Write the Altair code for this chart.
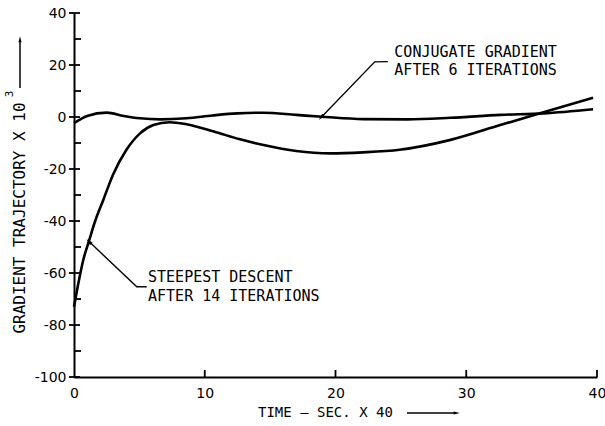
import altair as alt
import pandas as pd

# --- data ---
sd_x = [0, 0.33, 0.71, 1.17, 1.6, 2.24, 3.0, 4.0, 5.05, 6.07, 7.3, 8.6, 10.7, 12.7, 14.5, 17, 19.6, 22.1, 24.9, 28.8, 32.6, 35.9, 39.7]
sd_y = [-73, -64, -55, -47.3, -40.3, -31.9, -22, -12.7, -6.3, -3.1, -2.0, -2.8, -5.6, -8.6, -10.8, -13.1, -14, -13.6, -12.6, -8.8, -3.1, 1.8, 7.4]

cg_x = [0, 1, 2.5, 3.8, 5.05, 6.6, 8.6, 10.6, 12.5, 14.5, 17, 19, 22.1, 25.5, 28.8, 32.6, 35.9, 39.7]
cg_y = [-2.4, 0.4, 1.7, 0.4, -0.5, -0.9, -0.5, 0.6, 1.4, 1.65, 0.8, 0.1, -0.8, -0.9, -0.3, 0.8, 1.4, 3.0]

y_major = [-100, -80, -60, -40, -20, 0, 20, 40]
y_minor = [-90, -70, -50, -30, -10, 10, 30]
x_major = [0, 10, 20, 30, 40]
x_ticks_drawn = [10, 20, 30, 40]

# annotation leader lines (data units)
cg_lead_x = [18.95, 23.0, 24.0]
cg_lead_y = [0.1, 21.2, 21.3]
sd_lead_x = [1.19, 4.8, 5.56]
sd_lead_y = [-48.1, -65.3, -65.3]

cg_text = ["CONJUGATE GRADIENT", "AFTER 6 ITERATIONS"]
cg_text_x = [24.5, 24.5]
cg_text_y = [25.0, 17.9]
sd_text = ["STEEPEST DESCENT", "AFTER 14 ITERATIONS"]
sd_text_x = [5.66, 5.66]
sd_text_y = [-61.4, -68.9]

FONT = "DejaVu Sans"
MONO = "DejaVu Sans Mono"

xs = alt.Scale(domain=[0, 40], nice=False, zero=False)
ys = alt.Scale(domain=[-100, 40], nice=False, zero=False)

curves = pd.DataFrame(
    {"x": sd_x + cg_x,
     "y": sd_y + cg_y,
     "s": ["sd"] * len(sd_x) + ["cg"] * len(cg_x)}
)

base_x = alt.X("x:Q", scale=xs,
               axis=alt.Axis(values=x_major, title=None, ticks=False, grid=False,
                             domainColor="black", domainWidth=2, labelFont=FONT,
                             labelFontSize=14, labelColor="black", labelPadding=9,
                             labelFlush=False))
base_y = alt.Y("y:Q", scale=ys,
               axis=alt.Axis(values=y_major, title=None, ticks=False, grid=False,
                             domainColor="black", domainWidth=2, labelFont=FONT,
                             labelFontSize=14, labelColor="black", labelPadding=8,
                             labelFlush=False,
                             labelExpr="replace(datum.label, '\u2212', '-')"))

lines = alt.Chart(curves).mark_line(color="black", strokeWidth=2.6, interpolate="monotone").encode(
    x=base_x, y=base_y, detail="s:N"
)

# y ticks
ymaj = alt.Chart(pd.DataFrame({"v": y_major})).mark_rule(color="black", strokeWidth=1.8).encode(
    y=alt.Y("v:Q", scale=ys), x=alt.value(-5), x2=alt.value(6)
)
ymin = alt.Chart(pd.DataFrame({"v": y_minor})).mark_rule(color="black", strokeWidth=1.8).encode(
    y=alt.Y("v:Q", scale=ys), x=alt.value(0), x2=alt.value(7)
)
xmaj = alt.Chart(pd.DataFrame({"v": x_ticks_drawn})).mark_rule(color="black", strokeWidth=1.8).encode(
    x=alt.X("v:Q", scale=xs), y=alt.value(364), y2=alt.value(357)
)

lead = pd.DataFrame({
    "x": cg_lead_x + sd_lead_x,
    "y": cg_lead_y + sd_lead_y,
    "g": ["cg"] * 3 + ["sd"] * 3,
    "o": [0, 1, 2, 0, 1, 2],
})
leaders = alt.Chart(lead).mark_line(color="black", strokeWidth=1.4).encode(
    x=alt.X("x:Q", scale=xs), y=alt.Y("y:Q", scale=ys), detail="g:N", order="o:Q"
)

heads = pd.DataFrame({"x": [cg_lead_x[0], sd_lead_x[0]], "y": [cg_lead_y[0], sd_lead_y[0]],
                      "a": [224, 313]})
arrowheads = alt.Chart(heads).mark_point(shape="M0,-1L0.45,0.6L-0.45,0.6Z", filled=True, color="black",
                                         size=70, opacity=1).encode(
    x=alt.X("x:Q", scale=xs), y=alt.Y("y:Q", scale=ys), angle=alt.Angle("a:Q", scale=None)
)

labels = pd.DataFrame({"t": cg_text + sd_text, "x": cg_text_x + sd_text_x, "y": cg_text_y + sd_text_y})
ann = alt.Chart(labels).mark_text(align="left", baseline="middle", font=MONO, fontSize=15,
                                  color="black").encode(
    x=alt.X("x:Q", scale=xs), y=alt.Y("y:Q", scale=ys), text="t:N"
)

# axis titles with arrows
ytitle = alt.Chart(pd.DataFrame({"t": ["GRADIENT TRAJECTORY X 10"]})).mark_text(
    angle=270, align="center", baseline="middle", font=MONO, fontSize=16, color="black"
).encode(x=alt.value(-54), y=alt.value(205), text="t:N")
ysup = alt.Chart(pd.DataFrame({"t": ["3"]})).mark_text(
    angle=270, align="center", baseline="middle", font=MONO, fontSize=11, color="black"
).encode(x=alt.value(-64), y=alt.value(81), text="t:N")
yarrow = alt.Chart(pd.DataFrame({"k": [0]})).mark_rule(color="black", strokeWidth=1.5).encode(
    x=alt.value(-54), y=alt.value(75), y2=alt.value(28)
)
yhead = alt.Chart(pd.DataFrame({"k": [0]})).mark_point(shape="M0,-1L0.4,0.6L-0.4,0.6Z", filled=True,
                                                       color="black", size=60, opacity=1).encode(
    x=alt.value(-54), y=alt.value(27)
)
xtitle = alt.Chart(pd.DataFrame({"t": ["TIME  – SEC. X 40"]})).mark_text(
    align="left", baseline="middle", font=MONO, fontSize=14, color="black"
).encode(x=alt.value(184), y=alt.value(400), text="t:N")
xarrow = alt.Chart(pd.DataFrame({"k": [0]})).mark_rule(color="black", strokeWidth=1.5).encode(
    x=alt.value(333), x2=alt.value(380), y=alt.value(400)
)
xhead = alt.Chart(pd.DataFrame({"k": [0]})).mark_point(shape="M0,-1L0.4,0.6L-0.4,0.6Z", filled=True,
                                                       color="black", size=60, opacity=1,
                                                       angle=90).encode(
    x=alt.value(382), y=alt.value(400)
)

chart = alt.layer(
    lines, ymaj, ymin, xmaj, leaders, arrowheads, ann, ytitle, ysup, yarrow, yhead, xtitle, xarrow, xhead
).properties(
    width=523, height=364,
    autosize=alt.AutoSizeParams(type="none"),
    padding={"left": 74, "top": 13, "right": 8, "bottom": 49},
    background="white",
).configure_view(stroke=None)

chart.save("out.html", embed_options={"renderer": "svg", "actions": False})
